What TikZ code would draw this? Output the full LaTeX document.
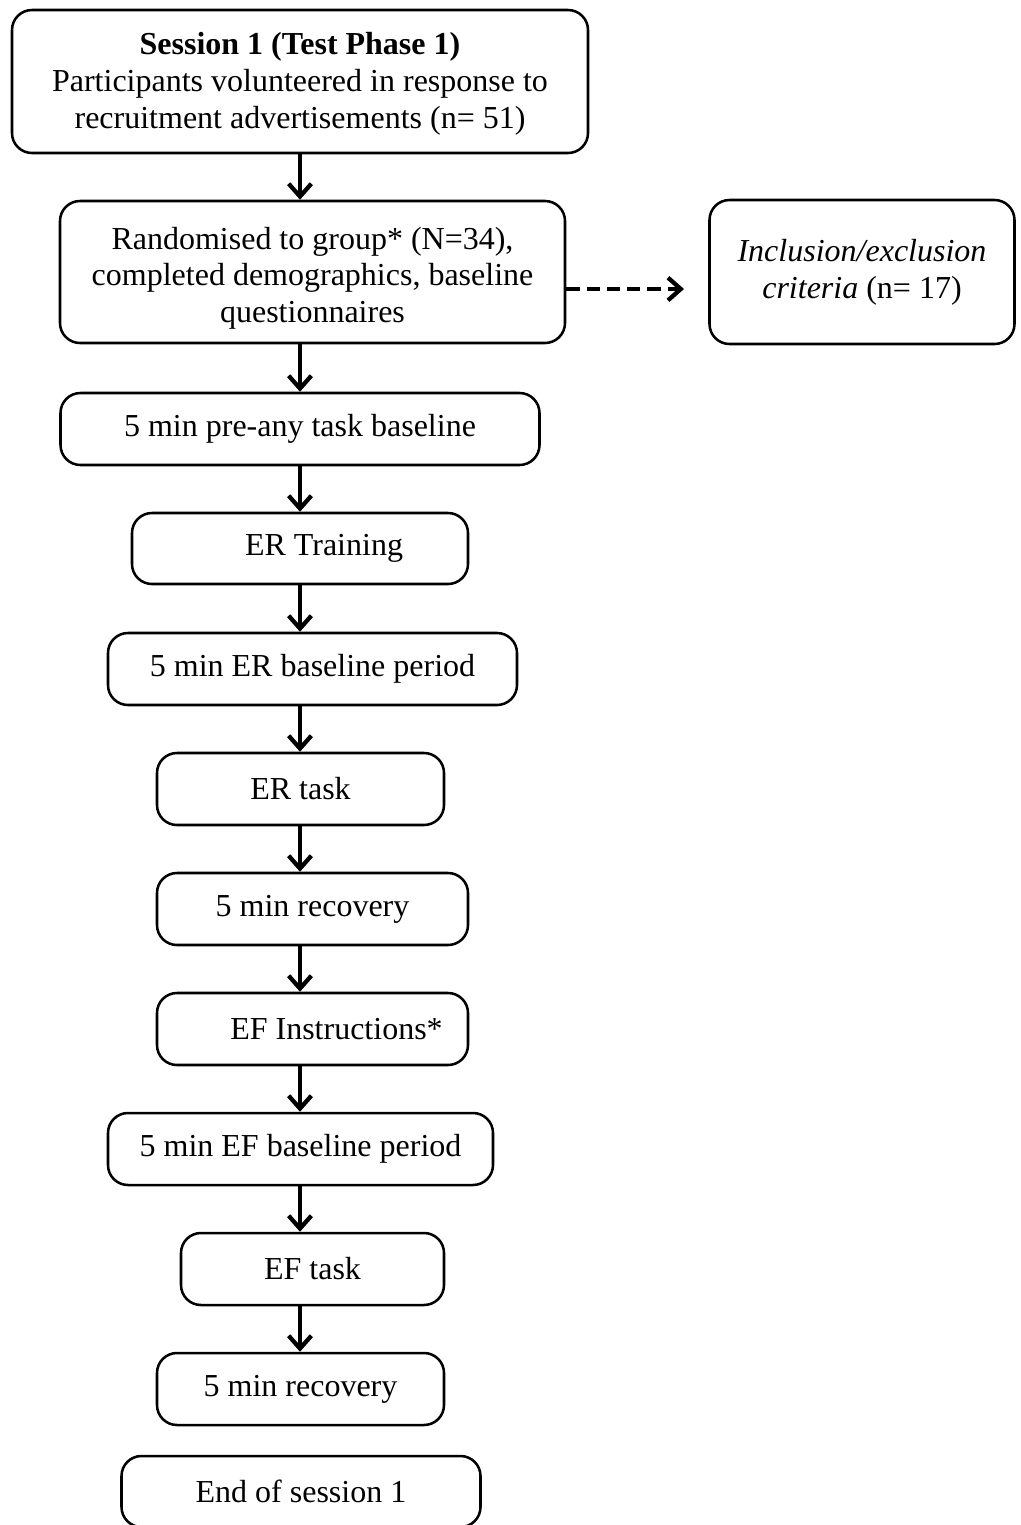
\documentclass[tikz,border=0pt]{standalone}
\usepackage{fontspec}
\setmainfont{Liberation Serif}
\usetikzlibrary{arrows.meta}

\tikzset{every picture/.style={line width=0.75pt}}

\begin{document}
\begin{tikzpicture}[x=0.375pt,y=0.375pt,yscale=-1,xscale=1,
  stepbox/.style={draw, line width=0.95pt, rounded corners=7.5pt, align=center, inner sep=0.75pt,
    font=\fontsize{12}{13.8}\selectfont},
  boxsize/.style 2 args={minimum width=#1*0.375pt, minimum height=#2*0.375pt},
  flow/.style={line width=1.6pt, -{Straight Barb[length=4.8pt,width=8.5pt]}},
  dashflow/.style={flow, dash pattern=on 5pt off 2.6pt}]
%set diagram left start at 0, and has height of 1525
\clip (0,0) rectangle (1021,1525);

%Spine of the flow [id:spine]
\coordinate (spine) at (300,0);
\coordinate (dashy) at (0,289);
\coordinate (dashend) at (684,289);

%Rounded Rect [id:box1]
\node[stepbox, boxsize={576}{143}] (session) at (300,81.5)
  {\rule{0pt}{10pt}\textbf{Session 1 (Test Phase 1)}\\Participants volunteered in response to\\recruitment advertisements (n= 51)};
%Rounded Rect [id:box2]
\node[stepbox, boxsize={505}{142}] (rand) at (312.5,272)
  {\rule{0pt}{13pt}Randomised to group* (N=34),\\completed demographics, baseline\\questionnaires};
%Rounded Rect [id:box3]
\node[stepbox, boxsize={305}{144}] (excl) at (862,272)
  {\textit{Inclusion/exclusion}\\\textit{criteria} (n= 17)};
%Rounded Rect [id:box4]
\node[stepbox, boxsize={479}{72}] (prebase) at (300,429) {5 min pre-any task baseline};
%Rounded Rect [id:box5]
\node[stepbox, boxsize={336}{71}] (ertrain) at (300,548.5) {\hspace*{1.5em}ER Training};
%Rounded Rect [id:box6]
\node[stepbox, boxsize={409}{72}] (erbase) at (312.5,669) {5 min ER baseline period};
%Rounded Rect [id:box7]
\node[stepbox, boxsize={287}{72}] (ertask) at (300.5,789) {ER task};
%Rounded Rect [id:box8]
\node[stepbox, boxsize={311}{72}] (errec) at (312.5,909) {5 min recovery};
%Rounded Rect [id:box9]
\node[stepbox, boxsize={311}{72}] (efinstr) at (312.5,1029) {\hspace*{1.5em}EF Instructions*};
%Rounded Rect [id:box10]
\node[stepbox, boxsize={385}{72}] (efbase) at (300.5,1149) {5 min EF baseline period};
%Rounded Rect [id:box11]
\node[stepbox, boxsize={263}{72}] (eftask) at (312.5,1269) {EF task};
%Rounded Rect [id:box12]
\node[stepbox, boxsize={287}{72}] (efrec) at (300.5,1389) {5 min recovery};
%Rounded Rect [id:box13]
\node[stepbox, boxsize={359}{71}] (endsess) at (301,1491.5) {End of session 1};

%Straight Lines [id:arrows]
\draw[flow] (session.south -| spine) -- (rand.north -| spine);
\draw[flow] (rand.south -| spine) -- (prebase.north -| spine);
\draw[flow] (prebase.south -| spine) -- (ertrain.north -| spine);
\draw[flow] (ertrain.south -| spine) -- (erbase.north -| spine);
\draw[flow] (erbase.south -| spine) -- (ertask.north -| spine);
\draw[flow] (ertask.south -| spine) -- (errec.north -| spine);
\draw[flow] (errec.south -| spine) -- (efinstr.north -| spine);
\draw[flow] (efinstr.south -| spine) -- (efbase.north -| spine);
\draw[flow] (efbase.south -| spine) -- (eftask.north -| spine);
\draw[flow] (eftask.south -| spine) -- (efrec.north -| spine);
%Straight Lines [id:dashed]
\draw[dashflow] (rand.east |- dashy) -- (dashend);

\end{tikzpicture}
\end{document}
